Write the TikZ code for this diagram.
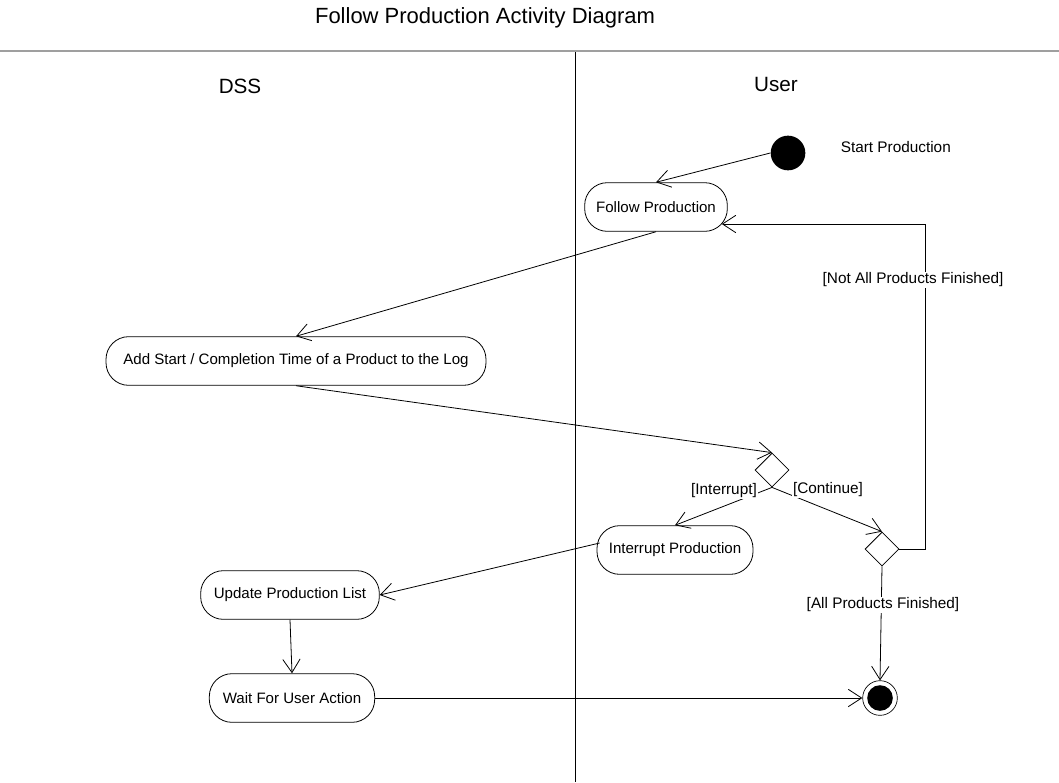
\documentclass[tikz,border=0pt]{standalone}
\usepackage{fontspec}
\setmainfont{Liberation Sans}
\usetikzlibrary{arrows.meta,shapes.geometric,calc}
\begin{document}
\begin{tikzpicture}[x=0.75pt,y=-0.75pt,
  line width=0.6pt,
  act/.style={draw, rounded corners=17pt, minimum height=36.5pt, inner sep=2pt, font=\fontsize{11.3}{13}\selectfont},
  dec/.style={draw, diamond, aspect=1, minimum size=25.5pt, inner sep=0pt},
  lbl/.style={fill=white, inner sep=1pt, font=\fontsize{11.5}{13}\selectfont},
  flow/.style={-{Straight Barb[length=10pt,width=13pt,line width=0.6pt]}}
]
\useasboundingbox (0,0) rectangle (1059,782);
% title and swimlanes
\node[font=\fontsize{16.5}{19}\selectfont] (title) at (485,18) {Follow Production Activity Diagram};
\draw[line width=1.8pt, gray!75] (0,51) -- (1059,51);
\draw (575,52) -- (575,782);
\node[font=\fontsize{15.5}{18}\selectfont] (dss) at (240,86) {DSS};
\node[font=\fontsize{15.5}{18}\selectfont] (user) at (776,84) {User};

% nodes
\node[circle, fill=black, minimum size=26pt, inner sep=0pt] (start) at (788,153) {};
\node[font=\fontsize{11.5}{13}\selectfont, anchor=west] (startlbl) at (836,147) {Start Production};
\node[act, minimum width=107pt] (fp) at (656,207) {Follow Production};
\node[act, minimum width=285pt] (add) at (296,361) {Add Start / Completion Time of a Product to the Log};
\node[dec] (d1) at (772,470) {};
\node[dec] (d2) at (882,549) {};
\node[act, minimum width=117pt] (ip) at (675,550) {Interrupt Production};
\node[act, minimum width=134pt] (upd) at (290,595) {Update Production List};
\node[act, minimum width=124pt] (wait) at (292,698) {Wait For User Action};
\node[circle, draw, minimum size=26pt, inner sep=0pt, line width=0.5pt] (fin) at (880,698) {};
\fill[black] (fin.center) circle (9.6pt);

% connectors
\coordinate (back) at (925,224);
\draw[flow] (start.west) -- (fp.north);
\draw[flow] (fp.south) -- (add.north);
\draw[flow] (add.south) -- (d1.north);
\draw[flow] (d1.south) -- (ip.north);
\draw[flow] (d1.south) -- (d2.north);
\draw[flow] (d2.east) -| (back) -- ($(fp.east)+(-6,17)$);
\draw[flow] (d2.south) -- (fin.north);
\draw[flow] ($(ip.west)+(3,-7)$) -- (upd.east);
\draw[flow] (upd.south) -- (wait.north);
\draw[flow] (wait.east) -- (fin.west);

% guard labels
\node[lbl] (l1) at (724,491) {[Interrupt]};
\node[lbl] (l2) at (828,490) {[Continue]};
\node[lbl] (l3) at (913,280) {[Not All Products Finished]};
\node[lbl] (l4) at (883,605) {[All Products Finished]};
\end{tikzpicture}
\end{document}
